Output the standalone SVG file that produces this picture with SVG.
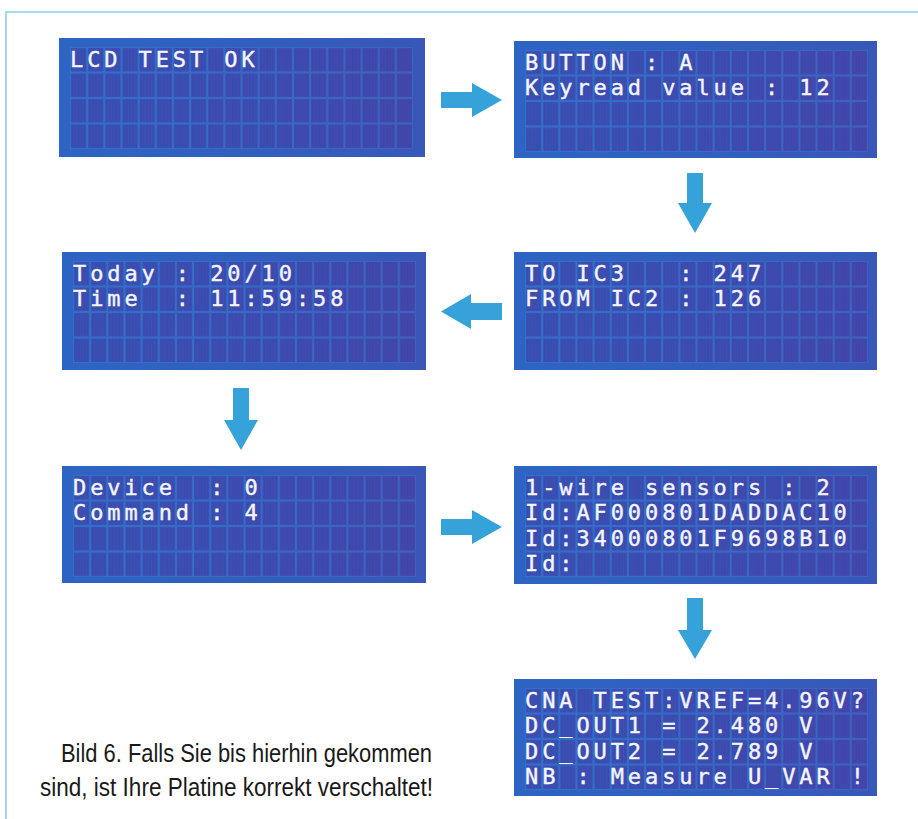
<svg xmlns="http://www.w3.org/2000/svg" width="918" height="819" viewBox="0 0 918 819">
  <defs>
    <style>
      .panel { fill: #2e64c2; }
      .cells { fill: url(#lcdCell); }
      .tint { fill: url(#lcdTint); }
      .lcd { font-family: "DejaVu Sans Mono", "Liberation Mono", monospace; font-size: 22px; letter-spacing: 3.9px; fill: #f3f5ff; stroke: #f3f5ff; stroke-width: 0.4; white-space: pre; }
      .arrow { fill: #35a2da; }
      .frame { fill: none; stroke: #8dd0ec; stroke-width: 1.6; }
      .caption { font-family: "Liberation Sans Narrow", "Liberation Sans", Arial, sans-serif; font-size: 26px; fill: #1a1a1a; text-anchor: end; }
    </style>
    <!-- one 5x8 character cell of the 20x4 display -->
    <pattern id="lcdCell" patternUnits="userSpaceOnUse" x="11" y="9" width="17.15" height="25.5">
      <rect width="17.15" height="25.5" fill="#3570ca"/>
      <rect x="1.1" y="1.1" width="14.95" height="23.3" fill="#3a4bae"/>
      <g stroke="#4356b8" stroke-width="0.6" opacity="0.6">
        <line x1="4.1" y1="1.1" x2="4.1" y2="24.4"/>
        <line x1="7.1" y1="1.1" x2="7.1" y2="24.4"/>
        <line x1="10.1" y1="1.1" x2="10.1" y2="24.4"/>
        <line x1="13.1" y1="1.1" x2="13.1" y2="24.4"/>
      </g>
    </pattern>
    <linearGradient id="lcdTint" x1="0" y1="0" x2="1" y2="0">
      <stop offset="0" stop-color="#2a5fc8" stop-opacity="0.1"/>
      <stop offset="1" stop-color="#5a2f98" stop-opacity="0.24"/>
    </linearGradient>
  </defs>

  <!-- page frame -->
  <path class="frame" d="M6 819 V12 H918"/>

  <!-- displays -->
  <g id="lcd-test" transform="translate(59,38)">
    <rect class="panel" width="366" height="119"/>
    <rect class="cells" x="11" y="9" width="343" height="102"/>
    <rect class="tint" width="366" height="119"/>
    <text class="lcd" x="11" y="29">LCD TEST OK</text>
  </g>

  <g id="button" transform="translate(514,41)">
    <rect class="panel" width="363" height="117"/>
    <rect class="cells" x="11" y="9" width="343" height="102"/>
    <rect class="tint" width="363" height="117"/>
    <text class="lcd" x="11" y="28.5">BUTTON : A</text>
    <text class="lcd" x="11" y="54">Keyread value : 12</text>
  </g>

  <g id="i2c" transform="translate(514,252)">
    <rect class="panel" width="363" height="118"/>
    <rect class="cells" x="11" y="9" width="343" height="102"/>
    <rect class="tint" width="363" height="118"/>
    <text class="lcd" x="11" y="28.5">TO IC3   : 247</text>
    <text class="lcd" x="11" y="54">FROM IC2 : 126</text>
  </g>

  <g id="clock" transform="translate(62,252)">
    <rect class="panel" width="364" height="118"/>
    <rect class="cells" x="11" y="9" width="343" height="102"/>
    <rect class="tint" width="364" height="118"/>
    <text class="lcd" x="11" y="28.5">Today : 20/10</text>
    <text class="lcd" x="11" y="54">Time  : 11:59:58</text>
  </g>

  <g id="device" transform="translate(62,466)">
    <rect class="panel" width="364" height="117"/>
    <rect class="cells" x="11" y="9" width="343" height="102"/>
    <rect class="tint" width="364" height="117"/>
    <text class="lcd" x="11" y="28.5">Device  : 0</text>
    <text class="lcd" x="11" y="54">Command : 4</text>
  </g>

  <g id="onewire" transform="translate(514,466)">
    <rect class="panel" width="363" height="118"/>
    <rect class="cells" x="11" y="9" width="343" height="102"/>
    <rect class="tint" width="363" height="118"/>
    <text class="lcd" x="11" y="28.5">1-wire sensors : 2</text>
    <text class="lcd" x="11" y="54">Id:AF000801DADDAC10</text>
    <text class="lcd" x="11" y="79.5">Id:34000801F9698B10</text>
    <text class="lcd" x="11" y="105">Id:</text>
  </g>

  <g id="cna" transform="translate(514,679)">
    <rect class="panel" width="363" height="117"/>
    <rect class="cells" x="11" y="9" width="343" height="102"/>
    <rect class="tint" width="363" height="117"/>
    <text class="lcd" x="11" y="28.5">CNA TEST:VREF=4.96V?</text>
    <text class="lcd" x="11" y="54">DC_OUT1 = 2.480 V</text>
    <text class="lcd" x="11" y="79.5">DC_OUT2 = 2.789 V</text>
    <text class="lcd" x="11" y="105">NB : Measure U_VAR !</text>
  </g>

  <!-- sequence arrows -->
  <g id="connectors">
    <polygon class="arrow" points="441,92 472,92 472,83 502,100 472,117 472,108 441,108"/>
    <polygon class="arrow" points="687,173 703,173 703,203 712,203 695,233 678,203 687,203"/>
    <polygon class="arrow" points="502,303 471,303 471,294 441,311.5 471,329 471,320 502,320"/>
    <polygon class="arrow" points="233,388 249,388 249,420 258,420 241,450 224,420 233,420"/>
    <polygon class="arrow" points="441,519 472,519 472,510 502,527 472,544 472,535 441,535"/>
    <polygon class="arrow" points="687,598 703,598 703,630 712,630 695,659 678,630 687,630"/>
  </g>

  <!-- caption -->
  <g id="caption">
    <text class="caption" x="432" y="762" textLength="371" lengthAdjust="spacingAndGlyphs">Bild 6. Falls Sie bis hierhin gekommen</text>
    <text class="caption" x="433" y="796" textLength="393" lengthAdjust="spacingAndGlyphs">sind, ist Ihre Platine korrekt verschaltet!</text>
  </g>
</svg>
